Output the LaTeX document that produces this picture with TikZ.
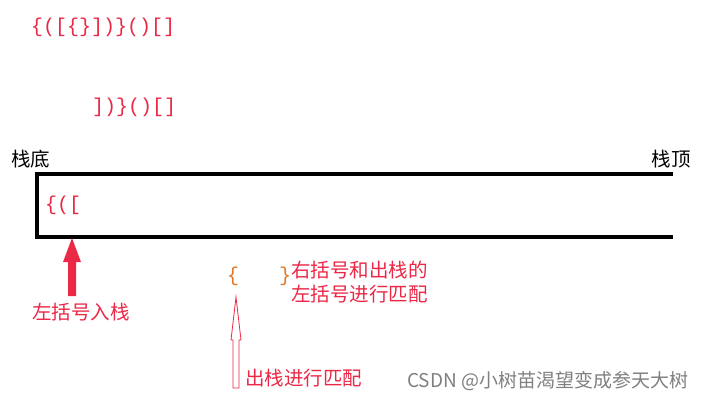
\documentclass[tikz,border=0pt]{standalone}
\usepackage{fontspec}
\setmainfont{Liberation Sans}
\setmonofont{Liberation Mono}
\newfontfamily\cjk{Noto Sans CJK SC}
\definecolor{br}{RGB}{235,40,70}
\definecolor{bo}{RGB}{225,120,40}
\begin{document}
\begin{tikzpicture}[x=1pt,y=-1pt,
  brk/.style={font=\ttfamily\fontsize{20}{20}\selectfont,text=br,inner sep=0,anchor=west},
  cj/.style={font=\cjk\fontsize{19.5}{22}\selectfont,inner sep=0},
  redtxt/.style={cj,text=br}]
\useasboundingbox[fill=white] (0,0) rectangle (714,402);
\node[brk] (t1) at (31,27) {\{([\{\}])\}()[]};
\node[brk] (t2) at (92,107) {])\}()[]};
\node[brk] (s) at (45,205) {\{([};
\draw[line width=4pt] (673,174) -- (37,174) -- (37,237) -- (673,237);
\node[cj,anchor=west] (bot) at (11,159) {栈底};
\node[cj,anchor=east] (top) at (691,159) {栈顶};
\fill[br] (68,296) -- (68,262) -- (63,262) -- (72,238) -- (81,262) -- (76,262) -- (76,296) -- cycle;
\node[redtxt,anchor=west] (push) at (32,312) {左括号入栈};
\draw[br,line width=0.8pt] (233,388) -- (233,340) -- (231,340) -- (236,297) -- (241,340) -- (239,340) -- (239,388) -- cycle;
\node[brk,text=bo] (lb) at (227,276) {\{};
\node[brk,text=bo] (rb) at (279,276) {\}};
\node[redtxt,anchor=west] (m1) at (291,270) {右括号和出栈的};
\node[redtxt,anchor=west] (m2) at (291,294) {左括号进行匹配};
\node[redtxt,anchor=west] (pop) at (245,378) {出栈进行匹配};
\node[cj,anchor=west,text=gray,font=\cjk\fontsize{19}{20}\selectfont] (wm) at (407,381) {CSDN @小树苗渴望变成参天大树};
\end{tikzpicture}
\end{document}
